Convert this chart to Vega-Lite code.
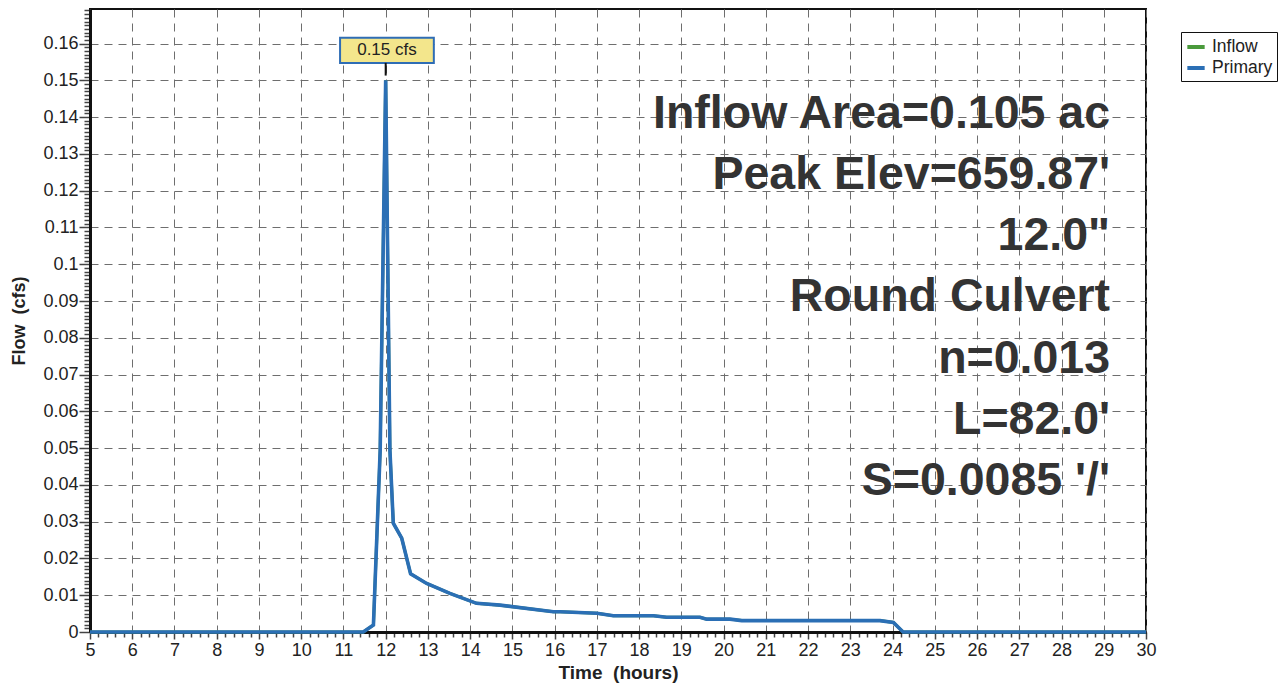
{
  "$schema": "https://vega.github.io/schema/vega-lite/v6.json",
  "width": 1056,
  "height": 623,
  "autosize": {"type": "none"},
  "padding": {"left": 90, "top": 9, "right": 137, "bottom": 52},
  "background": "white",
  "config": {
    "font": "Liberation Sans",
    "view": {"stroke": "#111", "strokeWidth": 2}
  },
  "datasets": {
    "flow": [
      {"series": "Inflow", "t": 5, "cfs": 0},
      {"series": "Inflow", "t": 11.47, "cfs": 0},
      {"series": "Inflow", "t": 11.71, "cfs": 0.0019},
      {"series": "Inflow", "t": 11.87, "cfs": 0.0495},
      {"series": "Inflow", "t": 12.0, "cfs": 0.15},
      {"series": "Inflow", "t": 12.1, "cfs": 0.0495},
      {"series": "Inflow", "t": 12.18, "cfs": 0.0296},
      {"series": "Inflow", "t": 12.38, "cfs": 0.0255},
      {"series": "Inflow", "t": 12.59, "cfs": 0.0158},
      {"series": "Inflow", "t": 12.97, "cfs": 0.0132},
      {"series": "Inflow", "t": 13.52, "cfs": 0.0105},
      {"series": "Inflow", "t": 14.15, "cfs": 0.0078},
      {"series": "Inflow", "t": 14.71, "cfs": 0.0073},
      {"series": "Inflow", "t": 15.97, "cfs": 0.0055},
      {"series": "Inflow", "t": 16.13, "cfs": 0.0055},
      {"series": "Inflow", "t": 17.0, "cfs": 0.0051},
      {"series": "Inflow", "t": 17.39, "cfs": 0.0044},
      {"series": "Inflow", "t": 18.34, "cfs": 0.0044},
      {"series": "Inflow", "t": 18.65, "cfs": 0.004},
      {"series": "Inflow", "t": 19.44, "cfs": 0.004},
      {"series": "Inflow", "t": 19.6, "cfs": 0.0035},
      {"series": "Inflow", "t": 20.15, "cfs": 0.0035},
      {"series": "Inflow", "t": 20.43, "cfs": 0.0031},
      {"series": "Inflow", "t": 23.7, "cfs": 0.0031},
      {"series": "Inflow", "t": 24.02, "cfs": 0.0026},
      {"series": "Inflow", "t": 24.25, "cfs": 0},
      {"series": "Inflow", "t": 30, "cfs": 0},
      {"series": "Primary", "t": 5, "cfs": 0},
      {"series": "Primary", "t": 11.47, "cfs": 0},
      {"series": "Primary", "t": 11.71, "cfs": 0.0019},
      {"series": "Primary", "t": 11.87, "cfs": 0.0495},
      {"series": "Primary", "t": 12.0, "cfs": 0.15},
      {"series": "Primary", "t": 12.1, "cfs": 0.0495},
      {"series": "Primary", "t": 12.18, "cfs": 0.0296},
      {"series": "Primary", "t": 12.38, "cfs": 0.0255},
      {"series": "Primary", "t": 12.59, "cfs": 0.0158},
      {"series": "Primary", "t": 12.97, "cfs": 0.0132},
      {"series": "Primary", "t": 13.52, "cfs": 0.0105},
      {"series": "Primary", "t": 14.15, "cfs": 0.0078},
      {"series": "Primary", "t": 14.71, "cfs": 0.0073},
      {"series": "Primary", "t": 15.97, "cfs": 0.0055},
      {"series": "Primary", "t": 16.13, "cfs": 0.0055},
      {"series": "Primary", "t": 17.0, "cfs": 0.0051},
      {"series": "Primary", "t": 17.39, "cfs": 0.0044},
      {"series": "Primary", "t": 18.34, "cfs": 0.0044},
      {"series": "Primary", "t": 18.65, "cfs": 0.004},
      {"series": "Primary", "t": 19.44, "cfs": 0.004},
      {"series": "Primary", "t": 19.6, "cfs": 0.0035},
      {"series": "Primary", "t": 20.15, "cfs": 0.0035},
      {"series": "Primary", "t": 20.43, "cfs": 0.0031},
      {"series": "Primary", "t": 23.7, "cfs": 0.0031},
      {"series": "Primary", "t": 24.02, "cfs": 0.0026},
      {"series": "Primary", "t": 24.25, "cfs": 0},
      {"series": "Primary", "t": 30, "cfs": 0}
    ],
    "peak": [
      {"t1": 10.92, "t2": 13.14, "c1": 0.16155, "c2": 0.15475, "tx": 12.03, "ty": 0.15815, "pt": 12.0, "p1": 0.15475, "p2": 0.1513, "label": "0.15 cfs"}
    ],
    "notes": [
      {"t": 29.15, "cfs": 0.13695, "text": "Inflow Area=0.105 ac"},
      {"t": 29.15, "cfs": 0.12035, "text": "Peak Elev=659.87'"},
      {"t": 29.15, "cfs": 0.10375, "text": "12.0\""},
      {"t": 29.15, "cfs": 0.08715, "text": "Round Culvert"},
      {"t": 29.15, "cfs": 0.07055, "text": "n=0.013"},
      {"t": 29.15, "cfs": 0.05395, "text": "L=82.0'"},
      {"t": 29.15, "cfs": 0.03735, "text": "S=0.0085 '/'"}
    ]
  },
  "layer": [
    {
      "data": {"name": "flow"},
      "transform": [{"filter": "datum.series == 'Inflow'"}],
      "mark": {"type": "line", "strokeWidth": 3, "interpolate": "linear"},
      "encoding": {
        "x": {
          "field": "t", "type": "quantitative",
          "scale": {"domain": [5, 30], "nice": false, "zero": false},
          "axis": {
            "title": "Time \u00a0(hours)",
            "titleFontSize": 19, "titleFontWeight": "bold", "titleColor": "#222", "titlePadding": 4,
            "tickCount": 500,
            "values": [5,5.2,5.4,5.6,5.8,6,6.2,6.4,6.6,6.8,7,7.2,7.4,7.6,7.8,8,8.2,8.4,8.6,8.8,9,9.2,9.4,9.6,9.8,10,10.2,10.4,10.6,10.8,11,11.2,11.4,11.6,11.8,12,12.2,12.4,12.6,12.8,13,13.2,13.4,13.6,13.8,14,14.2,14.4,14.6,14.8,15,15.2,15.4,15.6,15.8,16,16.2,16.4,16.6,16.8,17,17.2,17.4,17.6,17.8,18,18.2,18.4,18.6,18.8,19,19.2,19.4,19.6,19.8,20,20.2,20.4,20.6,20.8,21,21.2,21.4,21.6,21.8,22,22.2,22.4,22.6,22.8,23,23.2,23.4,23.6,23.8,24,24.2,24.4,24.6,24.8,25,25.2,25.4,25.6,25.8,26,26.2,26.4,26.6,26.8,27,27.2,27.4,27.6,27.8,28,28.2,28.4,28.6,28.8,29,29.2,29.4,29.6,29.8,30],
            "format": "~g",
            "labelExpr": "round(datum.value*5) % 5 == 0 ? datum.label : ''",
            "labelOverlap": false, "labelFlush": false,
            "labelFontSize": 18, "labelColor": "#222", "labelPadding": 2,
            "domainColor": "#111", "domainWidth": 3,
            "tickColor": "#444", "tickWidth": 1.5, "tickSize": 7,
            "tickDash": {"condition": {"test": "round(datum.value*5) % 5 == 0", "value": [20, 1]}, "value": [5, 20]},
            "grid": true, "gridColor": "#6e6e6e", "gridDash": [8, 6], "gridWidth": 1,
            "gridOpacity": {"condition": {"test": "round(datum.value*5) % 5 == 0", "value": 1}, "value": 0}
          }
        },
        "y": {
          "field": "cfs", "type": "quantitative",
          "scale": {"domain": [0, 0.1694], "nice": false},
          "axis": {
            "title": "Flow \u00a0(cfs)",
            "titleFontSize": 18, "titleFontWeight": "bold", "titleColor": "#222", "titlePadding": 14,
            "tickCount": 500,
            "values": [0,0.001,0.002,0.003,0.004,0.005,0.006,0.007,0.008,0.009,0.01,0.011,0.012,0.013,0.014,0.015,0.016,0.017,0.018,0.019,0.02,0.021,0.022,0.023,0.024,0.025,0.026,0.027,0.028,0.029,0.03,0.031,0.032,0.033,0.034,0.035,0.036,0.037,0.038,0.039,0.04,0.041,0.042,0.043,0.044,0.045,0.046,0.047,0.048,0.049,0.05,0.051,0.052,0.053,0.054,0.055,0.056,0.057,0.058,0.059,0.06,0.061,0.062,0.063,0.064,0.065,0.066,0.067,0.068,0.069,0.07,0.071,0.072,0.073,0.074,0.075,0.076,0.077,0.078,0.079,0.08,0.081,0.082,0.083,0.084,0.085,0.086,0.087,0.088,0.089,0.09,0.091,0.092,0.093,0.094,0.095,0.096,0.097,0.098,0.099,0.1,0.101,0.102,0.103,0.104,0.105,0.106,0.107,0.108,0.109,0.11,0.111,0.112,0.113,0.114,0.115,0.116,0.117,0.118,0.119,0.12,0.121,0.122,0.123,0.124,0.125,0.126,0.127,0.128,0.129,0.13,0.131,0.132,0.133,0.134,0.135,0.136,0.137,0.138,0.139,0.14,0.141,0.142,0.143,0.144,0.145,0.146,0.147,0.148,0.149,0.15,0.151,0.152,0.153,0.154,0.155,0.156,0.157,0.158,0.159,0.16,0.161,0.162,0.163,0.164,0.165,0.166,0.167,0.168,0.169],
            "format": "~g",
            "labelExpr": "round(datum.value*1000) % 10 == 0 ? datum.label : ''",
            "labelOverlap": false, "labelFlush": false,
            "labelFontSize": 18, "labelColor": "#222", "labelPadding": 1,
            "domainColor": "#111", "domainWidth": 3,
            "tickColor": "#444", "tickWidth": 1.5, "tickSize": 11,
            "tickDash": {"condition": {"test": "round(datum.value*1000) % 10 == 0", "value": [20, 1]}, "value": [6, 20]},
            "grid": true, "gridColor": "#6e6e6e", "gridDash": [8, 6], "gridWidth": 1,
            "gridOpacity": {"condition": {"test": "round(datum.value*1000) % 10 == 0", "value": 1}, "value": 0}
          }
        },
        "color": {
          "field": "series", "type": "nominal",
          "scale": {"domain": ["Inflow", "Primary"], "range": ["#4a9a3c", "#2b6fb5"]},
          "legend": {
            "title": null, "orient": "none", "legendX": 1091, "legendY": 23,
            "symbolType": "stroke", "symbolStrokeWidth": 4, "symbolSize": 300,
            "labelFontSize": 17.5, "labelColor": "#222", "labelOffset": 5,
            "rowPadding": 1, "padding": 4,
            "strokeColor": "#111", "fillColor": "white"
          }
        }
      }
    },
    {
      "data": {"name": "flow"},
      "transform": [{"filter": "datum.series == 'Primary'"}],
      "mark": {"type": "line", "strokeWidth": 3.6, "interpolate": "linear"},
      "encoding": {
        "x": {"field": "t", "type": "quantitative"},
        "y": {"field": "cfs", "type": "quantitative"},
        "color": {"field": "series", "type": "nominal"}
      }
    },
    {
      "data": {"name": "peak"},
      "mark": {"type": "rect", "fill": "#f3e68c", "stroke": "#2f6db5", "strokeWidth": 2},
      "encoding": {
        "x": {"field": "t1", "type": "quantitative"},
        "x2": {"field": "t2"},
        "y": {"field": "c1", "type": "quantitative"},
        "y2": {"field": "c2"}
      }
    },
    {
      "data": {"name": "peak"},
      "mark": {"type": "rule", "stroke": "#111", "strokeWidth": 2},
      "encoding": {
        "x": {"field": "pt", "type": "quantitative"},
        "y": {"field": "p1", "type": "quantitative"},
        "y2": {"field": "p2"}
      }
    },
    {
      "data": {"name": "peak"},
      "mark": {"type": "text", "fontSize": 17, "color": "#222", "align": "center", "baseline": "middle"},
      "encoding": {
        "x": {"field": "tx", "type": "quantitative"},
        "y": {"field": "ty", "type": "quantitative"},
        "text": {"field": "label"}
      }
    },
    {
      "data": {"name": "notes"},
      "mark": {"type": "text", "fontSize": 46.5, "fontWeight": "bold", "color": "#333", "align": "right", "baseline": "alphabetic"},
      "encoding": {
        "x": {"field": "t", "type": "quantitative"},
        "y": {"field": "cfs", "type": "quantitative"},
        "text": {"field": "text"}
      }
    }
  ]
}
